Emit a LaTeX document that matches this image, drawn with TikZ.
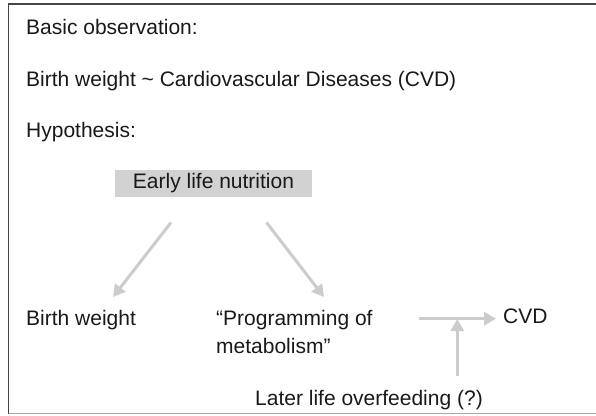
\documentclass[tikz,border=0pt]{standalone}
\usepackage{fontspec}
\setmainfont{Liberation Sans}
\usetikzlibrary{arrows.meta}
\definecolor{arrgray}{RGB}{204,204,204}
\definecolor{boxgray}{RGB}{210,210,210}
\definecolor{framedark}{RGB}{70,70,70}
\definecolor{framelight}{RGB}{170,170,170}
\definecolor{txtcol}{RGB}{25,25,25}
\begin{document}
\begin{tikzpicture}[x=1pt,y=-1pt,
  txt/.style={inner sep=0pt,anchor=base west,font=\fontsize{21}{27}\selectfont,text=txtcol},
  arr/.style={draw=arrgray,line width=3pt,-{Triangle[width=13pt,length=12pt]}}]
\useasboundingbox (0,0) rectangle (596,415);
\draw[framedark,line width=1.3pt] (8.5,414) -- (8.5,4) -- (597,4);
\draw[framelight,line width=1pt] (8.5,413.5) -- (597,413.5);
\node[txt] (obs) at (26,34) {Basic observation:};
\node[txt] (bw) at (26,86) {Birth weight \textasciitilde\ Cardiovascular Diseases (CVD)};
\node[txt] (hyp) at (26,137) {Hypothesis:};
\node[fill=boxgray,minimum width=197pt,minimum height=27pt,inner sep=0pt,font=\fontsize{21}{27}\selectfont,text=txtcol] (eln) at (213.5,183.5) {Early life nutrition};
\node[txt] (bw2) at (26,325.5) {Birth weight};
\node[txt] (prog) at (216,325.5) {“Programming of};
\node[txt] (meta) at (216,353) {metabolism”};
\node[txt] (cvd) at (503,323) {CVD};
\node[txt,anchor=base east] (late) at (483,405) {Later life overfeeding (?)};
\coordinate (a1s) at (171,222.5);
\coordinate (a1e) at (113,297);
\coordinate (a2s) at (266.5,222.5);
\coordinate (a2e) at (324,297);
\coordinate (hs) at (419,318.7);
\coordinate (he) at (496,318.7);
\coordinate (vs) at (457.3,376);
\coordinate (ve) at (457.3,319);
\draw[arr] (a1s) -- (a1e);
\draw[arr] (a2s) -- (a2e);
\draw[arr] (hs) -- (he);
\draw[arr] (vs) -- (ve);
\end{tikzpicture}
\end{document}
